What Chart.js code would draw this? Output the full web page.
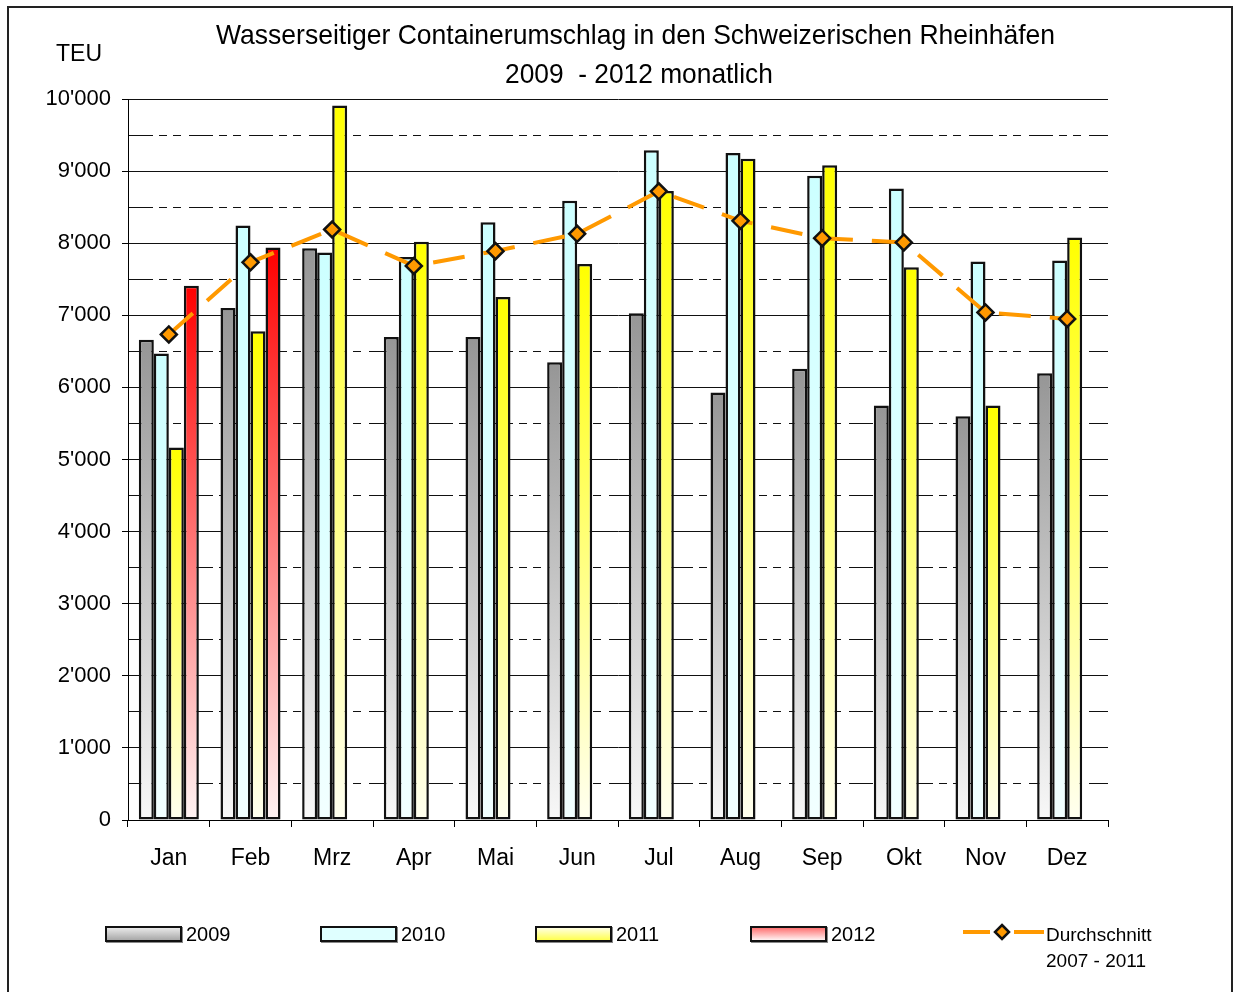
<!DOCTYPE html>
<html>
<head>
<meta charset="utf-8">
<script src="https://cdn.jsdelivr.net/npm/chart.js@4/dist/chart.umd.min.js"></script>
<style>
  body { margin: 0; background: #fff; font-family: "Liberation Sans", Arial, sans-serif; }
  #wrap { position: relative; width: 1236px; height: 992px; overflow: hidden; }
  #frame { position: absolute; left: 7px; top: 6px; width: 1226px; height: 1000px; border: 2px solid #222; box-sizing: border-box; }
  canvas { position: absolute; left: 0; top: 0; }
  .title { position: absolute; left: 0; white-space: nowrap; font-size: 28px; color: #000; transform-origin: 0 50%; }
  #teu { position: absolute; left: 56px; top: 40px; font-size: 23px; }
  .lg { position: absolute; top: 922px; height: 24px; display: flex; align-items: center; font-size: 20px; }
  .lg .box { width: 73px; height: 12px; border: 2px solid #111; margin-right: 4px; box-shadow: 1px 1px 0 #888; }
  .lg2 { position: absolute; left: 1046px; top: 922px; font-size: 19px; line-height: 26px; }
</style>
</head>
<body>
<div id="wrap">
  <canvas id="chart" width="1236" height="992"></canvas>
  <div id="frame"></div>
  <div class="title" id="t1" style="top:19px">Wasserseitiger Containerumschlag in den Schweizerischen Rheinhäfen</div>
  <div class="title" id="t2" style="top:58px">2009&nbsp; - 2012 monatlich</div>
  <div id="teu">TEU</div>

  <div class="lg" style="left:105px"><span class="box" style="background:linear-gradient(#e8e8e8,#a8a8a8)"></span>2009</div>
  <div class="lg" style="left:320px"><span class="box" style="background:#dfffff"></span>2010</div>
  <div class="lg" style="left:535px"><span class="box" style="background:linear-gradient(#ffffe0,#ffff50)"></span>2011</div>
  <div class="lg" style="left:750px"><span class="box" style="background:linear-gradient(#ff7373,#fff2f2)"></span>2012</div>
  <canvas id="lgline" width="84" height="24" style="left:962px;top:920px"></canvas>
  <div class="lg2">Durchschnitt<br>2007 - 2011</div>
</div>

<script>
// values (TEU per month)
const months = ['Jan','Feb','Mrz','Apr','Mai','Jun','Jul','Aug','Sep','Okt','Nov','Dez'];
const y2009 = [6660, 7100, 7930, 6700, 6700, 6350, 7030, 5930, 6260, 5750, 5600, 6195];
const y2010 = [6470, 8245, 7870, 7810, 8290, 8590, 9290, 9250, 8935, 8760, 7745, 7760];
const y2011 = [5165, 6780, 9910, 8020, 7255, 7710, 8725, 9170, 9080, 7665, 5750, 8080];
const y2012 = [7410, 7940, null, null, null, null, null, null, null, null, null, null];
const avg0711 = [6735, 7735, 8190, 7685, 7890, 8130, 8720, 8310, 8070, 8010, 7040, 6950];

// fit title lines to the reference widths
function fitTitle(id, width, center) {
  const el = document.getElementById(id);
  const s = width / el.offsetWidth;
  el.style.left = (center - width / 2) + 'px';
  el.style.transform = `scaleX(${s})`;
}
fitTitle('t1', 839, 635);
fitTitle('t2', 268, 639);

// vertical gradient per bar, from its top to the zero line
function grad(top, bottom) {
  return ctx => {
    const chart = ctx.chart;
    const ys = chart.scales.y;
    if (!chart.chartArea || !ys || ctx.raw == null) return top;
    const g = chart.ctx.createLinearGradient(0, ys.getPixelForValue(ctx.raw), 0, ys.getPixelForValue(0));
    g.addColorStop(0, top);
    g.addColorStop(1, bottom);
    return g;
  };
}

function fmt(v) { return String(v).replace(/\B(?=(\d{3})+(?!\d))/g, "'"); }

const barOpts = { borderColor: '#111', borderWidth: 2.5, borderSkipped: false, order: 1 };

new Chart(document.getElementById('chart'), {
  type: 'bar',
  data: {
    labels: months,
    datasets: [
      { type: 'line', label: 'Durchschnitt 2007 - 2011', data: avg0711, order: 0,
        borderColor: '#ff9900', borderWidth: 4, borderDash: [32, 19], tension: 0,
        pointStyle: 'rectRot', pointRadius: 8, pointBackgroundColor: '#ff9900',
        pointBorderColor: '#111', pointBorderWidth: 2.5 },
      { label: '2009', data: y2009, backgroundColor: grad('#969696', '#f8f8f8'), ...barOpts },
      { label: '2010', data: y2010, backgroundColor: grad('#ccffff', '#f2ffff'), ...barOpts },
      { label: '2011', data: y2011, backgroundColor: grad('#ffff00', '#fffff0'), ...barOpts },
      { label: '2012', data: y2012, backgroundColor: grad('#ff0000', '#fff4f4'), ...barOpts },
    ]
  },
  options: {
    responsive: false,
    animation: false,
    devicePixelRatio: 1,
    categoryPercentage: 0.735,
    barPercentage: 1,
    layout: { padding: { top: 99, right: 128, left: 0, bottom: 0 } },
    plugins: { legend: { display: false }, tooltip: { enabled: false } },
    scales: {
      x: {
        grid: { offset: true, drawOnChartArea: false, drawTicks: true, tickLength: 7, color: '#000', lineWidth: 1 },
        border: { color: '#000', width: 1 },
        ticks: { color: '#000', font: { family: 'Liberation Sans', size: 23 }, padding: 18 },
        afterFit: s => { s.height = 172; }
      },
      y: {
        min: 0, max: 10000,
        grid: {
          color: '#111', lineWidth: 1, tickLength: 6,
          tickColor: c => (c.tick && c.tick.value % 1000) ? 'rgba(0,0,0,0)' : '#000'
        },
        border: {
          color: '#000', width: 1,
          dash: c => (c.tick && c.tick.value % 1000) ? [24, 6, 8, 6, 8, 8] : []
        },
        ticks: {
          stepSize: 500, autoSkip: false, color: '#000', padding: 11,
          font: { family: 'Liberation Sans', size: 22 },
          callback: v => v % 1000 ? '' : fmt(v)
        },
        afterFit: s => { s.width = 128; }
      }
    }
  }
});

// legend sample for the average line
const lc = document.getElementById('lgline').getContext('2d');
lc.strokeStyle = '#ff9900'; lc.lineWidth = 4;
lc.beginPath(); lc.moveTo(1, 12); lc.lineTo(28, 12); lc.moveTo(52, 12); lc.lineTo(82, 12); lc.stroke();
lc.fillStyle = '#ff9900'; lc.strokeStyle = '#111'; lc.lineWidth = 2.5;
lc.beginPath(); lc.moveTo(40, 5); lc.lineTo(47, 12); lc.lineTo(40, 19); lc.lineTo(33, 12); lc.closePath();
lc.fill(); lc.stroke();
</script>
</body>
</html>
